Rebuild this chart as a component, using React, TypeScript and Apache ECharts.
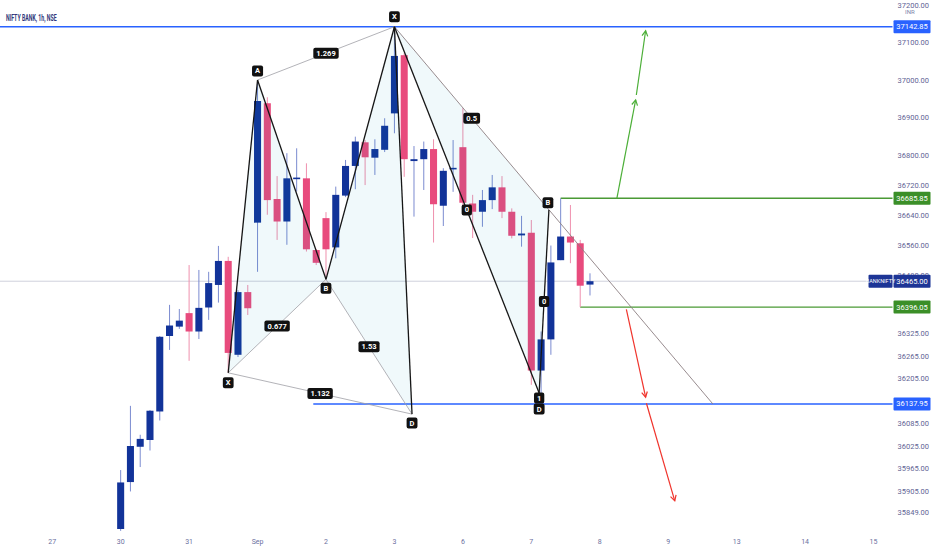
import React, { useEffect, useRef } from 'react';
import * as echarts from 'echarts';

// ---- axis ranges (bar index / price) ----
const X_MIN = -12.34;
const X_MAX = 78.94;
const Y_MIN = 35797;
const Y_MAX = 37214;

// ---- hourly candles (index 0 = first bar of 30 Aug) ----
const OPEN = [35805, 35930, 36024, 36042, 36118, 36319, 36344, 36380, 36331, 36395, 36455, 36519, 36269, 36436,
  36621, 36939, 36684, 36624, 36738, 36739, 36548, 36633, 36555, 36693, 36772, 36835, 36794, 36815,
  36912, 37067, 36785, 36790, 36817, 36666, 36763, 36822, 36672, 36650, 36681, 36715, 36650, 36587,
  36594, 36227, 36310, 36521, 36584, 36566, 36456];
const HIGH = [35962, 36133, 36056, 36122, 36319, 36402, 36391, 36508, 36495, 36490, 36559, 36530, 36441, 36455,
  37001, 36955, 36745, 36806, 36819, 36779, 36551, 36649, 36717, 36788, 36850, 36841, 36843, 36899,
  37142.85, 37073, 36825, 36837, 36843, 36766, 36841, 36926, 36695, 36708, 36748, 36745, 36659, 36639,
  36628, 36331, 36560, 36685.85, 36668, 36575, 36486];
const LOW = [35800, 35905, 35970, 36014, 36094, 36282, 36338, 36253, 36311, 36362, 36408, 36221, 36263, 36375,
  36490, 36642, 36575, 36562, 36704, 36544, 36508, 36470, 36526, 36689, 36710, 36721, 36748, 36809,
  36859, 36743, 36637, 36708, 36568, 36612, 36703, 36649, 36580, 36610, 36657, 36633, 36579, 36557,
  36189, 36167, 36269, 36521, 36513, 36396.05, 36427];
const CLOSE = [35929, 36026, 36045, 36120, 36317, 36347, 36360, 36331, 36394, 36460, 36519, 36274, 36436, 36393,
  36945, 36681, 36624, 36739, 36741, 36550, 36514, 36550, 36695, 36772, 36837, 36795, 36817, 36879,
  37065, 36790, 36790, 36817, 36670, 36759, 36767, 36674, 36650, 36681, 36715, 36650, 36586, 36592,
  36227, 36310, 36515, 36584, 36568, 36453, 36465];

// ---- axis ticks ----
const DAY_TICKS = [-7, 0, 7, 14, 21, 28, 35, 42, 49, 56, 63, 70, 77];
const DAY_LABELS = ['27', '30', '31', 'Sep', '2', '3', '6', '7', '8', '9', '13', '14', '15'];
const PRICE_TICKS = [37200, 37100, 37000, 36900, 36800, 36720, 36640, 36560, 36480, 36325, 36265,
  36205, 36085, 36025, 35965, 35905, 35849];

// ---- horizontal levels ----
const LEVEL_VALUES = [37142.85, 36685.85, 36465, 36396.05, 36137.95];
const LEVEL_START = [X_MIN, 45, X_MIN, 47, 19.7];
const LEVEL_KIND = ['blue', 'green', 'last', 'green', 'blue'];

// ---- XABCD pattern ----
const XABCD_IDX = [11, 14, 21, 28, 29.8];
const XABCD_VAL = [36221, 37001, 36470, 37142.85, 36111];
const XABCD_NAMES = ['X', 'A', 'B', 'X', 'D'];
const XABCD_RATIOS = ['0.677', '1.269', '1.53', '1.132'];

// ---- second (ABCD) pattern ----
const ABCD_IDX = [28, 42.8, 43.8];
const ABCD_VAL = [37142.85, 36167, 36655];
const ABCD_RATIOS = ['0', '0', '0.5'];
const ABCD_EXT_IDX = 60.57;
const ABCD_EXT_VAL = 36137.95;

// ---- projection arrows ----
const UP_ARROW_X = [50.75, 52.67, 52.74, 53.69];
const UP_ARROW_Y = [36685.85, 36948, 36961, 37132];
const DOWN_ARROW_X = [51.72, 53.69, 53.77, 56.67];
const DOWN_ARROW_Y = [36390, 36156, 36140, 35880];

const UP = '#123399';
const DOWN = '#e84b7d';
const UP_WICK = '#7b8bd0';
const DOWN_WICK = '#ef90ae';
const BLUE = '#2962ff';
const GREEN = '#4a9a35';
const GREEN_BOX = '#3b8f28';
const LAST = '#1d3596';
const FILL = 'rgba(0,150,180,0.06)';
const FONT = 'Roboto';

function levelColor(kind: string) {
  if (kind === 'blue') return BLUE;
  if (kind === 'green') return GREEN;
  return '#cfd1dc';
}

function tag(x: number, y: number, text: string) {
  return {
    type: 'text',
    x,
    y,
    z2: 20,
    style: {
      text,
      fill: '#ffffff',
      backgroundColor: '#111111',
      padding: [2, 3, 1, 3],
      borderRadius: 2,
      align: 'center',
      verticalAlign: 'middle',
      fontSize: 7.5,
      fontWeight: 'bold',
      fontFamily: FONT,
    },
  };
}

function line(p: number[], q: number[], stroke: string, lineWidth: number) {
  return {
    type: 'line',
    shape: { x1: p[0], y1: p[1], x2: q[0], y2: q[1] },
    style: { stroke, lineWidth },
  };
}

function arrowHead(p: number[], q: number[], stroke: string) {
  const ang = Math.atan2(q[1] - p[1], q[0] - p[0]);
  const L = 6;
  const a = 0.5;
  return {
    type: 'polyline',
    shape: {
      points: [
        [q[0] - L * Math.cos(ang - a), q[1] - L * Math.sin(ang - a)],
        q,
        [q[0] - L * Math.cos(ang + a), q[1] - L * Math.sin(ang + a)],
      ],
    },
    style: { stroke, lineWidth: 1.2, fill: 'none' },
  };
}

export default function App() {
  const ref = useRef<HTMLDivElement>(null);
  useEffect(() => {
    document.body.style.margin = '0';
    const chart = echarts.init(ref.current!, null, { renderer: 'svg' });

    const candleData = OPEN.map((o, i) => [i, o, CLOSE[i], LOW[i], HIGH[i]]);
    const levelData = LEVEL_VALUES.map((v, i) => [LEVEL_START[i], v, i]);

    const option: any = {
      animation: false,
      backgroundColor: '#ffffff',
      grid: { left: 0, right: 39, top: 0, bottom: 18 },
      xAxis: {
        type: 'value',
        min: X_MIN,
        max: X_MAX,
        splitLine: { show: false },
        axisLine: { show: false },
        axisTick: { show: false },
        axisLabel: {
          customValues: DAY_TICKS,
          formatter: (v: number) => DAY_LABELS[DAY_TICKS.indexOf(v)] ?? '',
          color: '#6b70a0',
          fontSize: 7,
          fontFamily: FONT,
          margin: 6,
        },
      },
      yAxis: {
        type: 'value',
        position: 'right',
        min: Y_MIN,
        max: Y_MAX,
        splitLine: { show: false },
        axisLine: { show: false },
        axisTick: { show: false },
        axisLabel: {
          customValues: PRICE_TICKS,
          formatter: (v: number) => v.toFixed(2),
          color: '#5f6495',
          fontSize: 7.5,
          fontFamily: FONT,
          margin: 5,
        },
      },
      graphic: [
        {
          type: 'text',
          left: 6,
          top: 13,
          scaleX: 0.55,
          style: {
            text: 'NIFTY BANK, 1h, NSE',
            fill: '#2f387a',
            fontSize: 9.5,
            fontWeight: 'bold',
            fontFamily: FONT,
          },
        },
        {
          type: 'text',
          left: 905,
          top: 8,
          style: { text: 'INR', fill: '#7a7fa8', fontSize: 6, fontFamily: FONT },
        },
      ],
      series: [
        {
          type: 'custom',
          name: 'levels',
          z: 1,
          clip: true,
          encode: { x: 0, y: 1 },
          data: levelData,
          renderItem: (params: any, api: any) => {
            const v = api.value(1);
            const k = LEVEL_KIND[api.value(2)];
            const p = api.coord([api.value(0), v]);
            const q = api.coord([X_MAX, v]);
            return line(p, q, levelColor(k), k === 'last' ? 1 : 1.4);
          },
        },
        {
          type: 'custom',
          name: 'BANKNIFTY',
          z: 2,
          clip: true,
          encode: { x: 0, y: [1, 2, 3, 4] },
          data: candleData,
          renderItem: (params: any, api: any) => {
            const i = api.value(0);
            const o = api.value(1);
            const c = api.value(2);
            const pO = api.coord([i, o]);
            const pC = api.coord([i, c]);
            const pL = api.coord([i, api.value(3)]);
            const pH = api.coord([i, api.value(4)]);
            const w = api.size([1, 0])[0] * 0.72;
            const up = c >= o;
            const top = Math.min(pO[1], pC[1]);
            const h = Math.max(1.6, Math.abs(pO[1] - pC[1]));
            return {
              type: 'group',
              children: [
                line([pO[0], pH[1]], [pO[0], pL[1]], up ? UP_WICK : DOWN_WICK, 1),
                {
                  type: 'rect',
                  shape: { x: pO[0] - w / 2, y: top, width: w, height: h },
                  style: { fill: up ? UP : DOWN },
                },
              ],
            };
          },
        },
        {
          type: 'custom',
          name: 'drawings',
          z: 3,
          clip: false,
          encode: { x: 0, y: 1 },
          data: [[XABCD_IDX[0], XABCD_VAL[0]]],
          renderItem: (params: any, api: any) => {
            const P = XABCD_IDX.map((x, i) => api.coord([x, XABCD_VAL[i]]));
            const Q = ABCD_IDX.map((x, i) => api.coord([x, ABCD_VAL[i]]));
            const ext = api.coord([ABCD_EXT_IDX, ABCD_EXT_VAL]);
            const children: any[] = [];
            children.push({ type: 'polygon', shape: { points: [P[0], P[1], P[2]] }, style: { fill: FILL } });
            children.push({ type: 'polygon', shape: { points: [P[2], P[3], P[4]] }, style: { fill: FILL } });
            children.push({ type: 'polygon', shape: { points: [Q[0], Q[1], Q[2]] }, style: { fill: FILL } });
            const pairs = [[0, 2], [1, 3], [2, 4], [0, 4]];
            pairs.forEach(([a, b]) => children.push(line(P[a], P[b], '#a0a0a6', 0.8)));
            children.push(line(Q[0], ext, '#8c7f82', 0.9));
            for (let i = 0; i < 4; i++) children.push(line(P[i], P[i + 1], '#161616', 1.3));
            children.push(line(Q[0], Q[1], '#161616', 1.3));
            children.push(line(Q[1], Q[2], '#161616', 1.3));
            for (let s = 0; s < 4; s += 2) {
              const a = api.coord([UP_ARROW_X[s], UP_ARROW_Y[s]]);
              const b = api.coord([UP_ARROW_X[s + 1], UP_ARROW_Y[s + 1]]);
              children.push(line(a, b, '#4caf38', 1.2));
              children.push(arrowHead(a, b, '#4caf38'));
              const c = api.coord([DOWN_ARROW_X[s], DOWN_ARROW_Y[s]]);
              const d = api.coord([DOWN_ARROW_X[s + 1], DOWN_ARROW_Y[s + 1]]);
              children.push(line(c, d, '#f0342c', 1.2));
              children.push(arrowHead(c, d, '#f0342c'));
            }
            pairs.forEach(([a, b], k) => {
              children.push(tag((P[a][0] + P[b][0]) / 2, (P[a][1] + P[b][1]) / 2, XABCD_RATIOS[k]));
            });
            const qPairs = [[0, 1], [1, 2], [0, 2]];
            qPairs.forEach(([a, b], k) => {
              children.push(tag((Q[a][0] + Q[b][0]) / 2, (Q[a][1] + Q[b][1]) / 2, ABCD_RATIOS[k]));
            });
            const offs = [10, -9, 9, -10, 9];
            P.forEach((p, i) => children.push(tag(p[0], p[1] + offs[i], XABCD_NAMES[i])));
            children.push(tag(Q[2][0] - 1, Q[2][1] - 7, 'B'));
            children.push(tag(Q[1][0], Q[1][1] + 5, '1'));
            children.push(tag(Q[1][0], Q[1][1] + 16, 'D'));
            return { type: 'group', children };
          },
        },
        {
          type: 'custom',
          name: 'priceTags',
          z: 5,
          clip: false,
          encode: { x: 0, y: 1 },
          data: levelData,
          renderItem: (params: any, api: any) => {
            const v = api.value(1);
            const k = LEVEL_KIND[api.value(2)];
            const p = api.coord([X_MAX, v]);
            const bg = k === 'blue' ? BLUE : k === 'green' ? GREEN_BOX : LAST;
            const children: any[] = [
              {
                type: 'rect',
                shape: { x: p[0] + 1, y: p[1] - 6.5, width: 37, height: 13, r: 1 },
                style: { fill: bg },
              },
              {
                type: 'text',
                x: p[0] + 19.5,
                y: p[1],
                style: {
                  text: v.toFixed(2),
                  fill: '#ffffff',
                  align: 'center',
                  verticalAlign: 'middle',
                  fontSize: 7.5,
                  fontFamily: FONT,
                },
              },
            ];
            if (k === 'last') {
              children.push({
                type: 'rect',
                shape: { x: p[0] - 24, y: p[1] - 6.5, width: 24, height: 13, r: 1 },
                style: { fill: LAST },
              });
              children.push({
                type: 'text',
                x: p[0] - 12,
                y: p[1],
                style: {
                  text: 'BANKNIFTY',
                  fill: '#ffffff',
                  align: 'center',
                  verticalAlign: 'middle',
                  fontSize: 5.5,
                  fontFamily: FONT,
                },
              });
            }
            return { type: 'group', children };
          },
        },
      ],
    };

    chart.setOption(option);
    return () => chart.dispose();
  }, []);
  return <div ref={ref} style={{ width: 932, height: 550 }} />;
}
